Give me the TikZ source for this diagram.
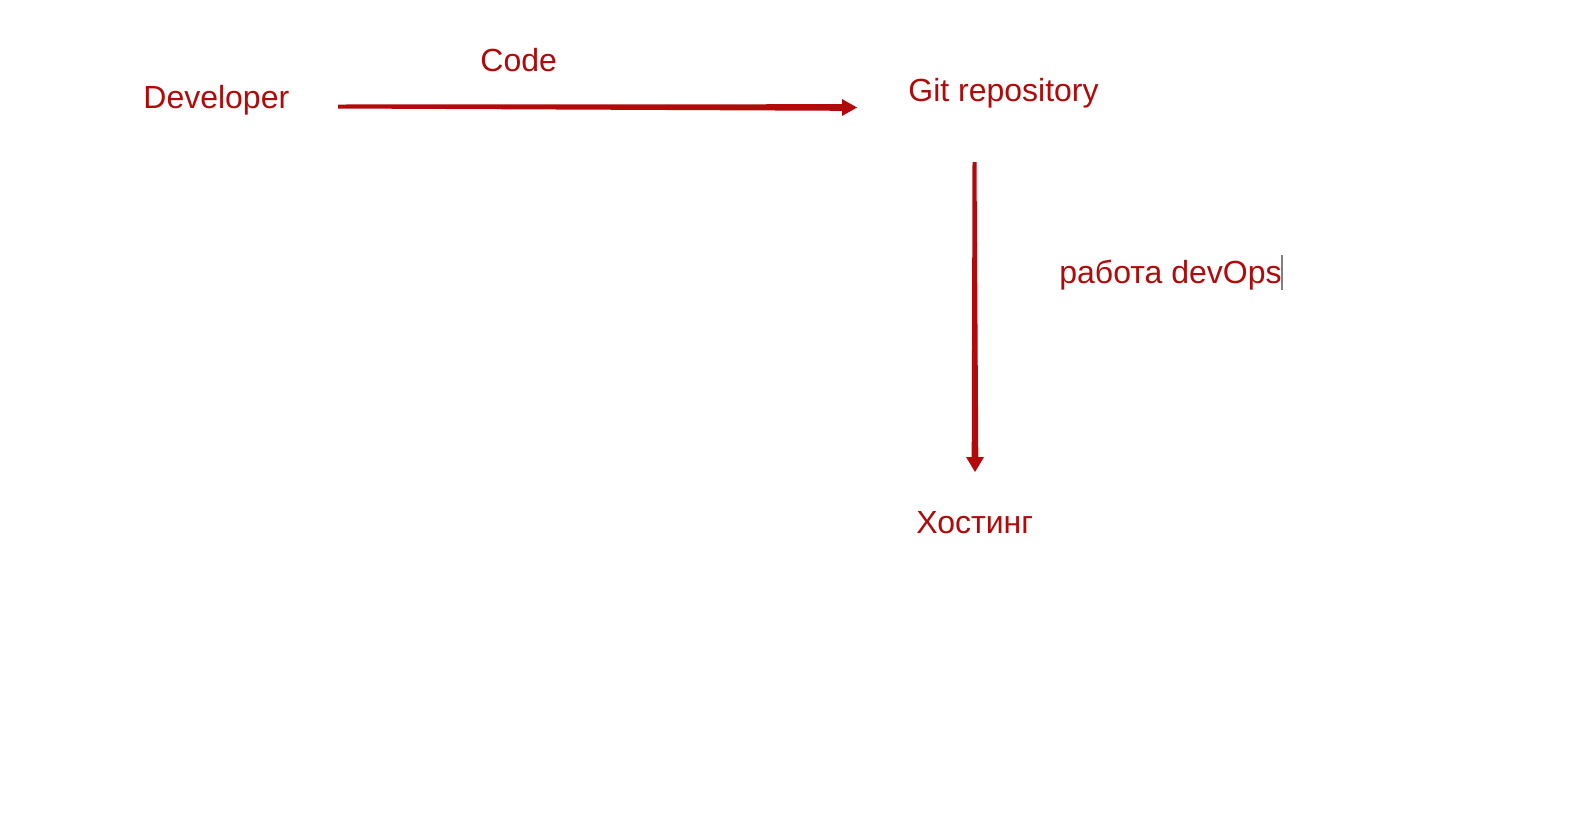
\documentclass[tikz,border=0pt]{standalone}
\usepackage{fontspec}
\setmainfont{Liberation Sans}
\usetikzlibrary{calc}
\definecolor{dred}{RGB}{178,10,10}
\begin{document}
\begin{tikzpicture}[x=0.5pt,y=-0.5pt,
  lbl/.style={anchor=base west,inner sep=0pt,text=dred,font=\fontsize{16}{19}\selectfont},
  arrowfill/.style={fill=dred,draw=none}]
\useasboundingbox[fill=white] (0,0) rectangle (1586,815);
\node[lbl] (dev) at (143,108) {Developer};
\node[lbl] (code) at (480,71) {Code};
\node[lbl] (git) at (908,101) {Git repository};
\node[lbl] (ops) at (1059,283) {работа devOps};
\node[lbl] (host) at (916,533) {Хостинг};
% cursor
\coordinate (cur1) at (1281.5,255);
\coordinate (cur2) at (1281.5,290);
\draw[gray,line width=1pt] (cur1) -- (cur2);
% horizontal arrow
\coordinate (h1) at (338,106.5);
\coordinate (h2) at (857,107.5);
\fill[arrowfill] ($(h1)+(0,-2)$) -- ($(h2)+(-15,-3.3)$) -- ($(h2)+(-15,-8.5)$) -- (h2)
  -- ($(h2)+(-15,8.5)$) -- ($(h2)+(-15,3.3)$) -- ($(h1)+(0,2)$) -- cycle;
% vertical arrow
\coordinate (v1) at (974.5,162);
\coordinate (v2) at (975,472);
\fill[arrowfill] ($(v1)+(-2,0)$) -- ($(v2)+(-3.3,-15)$) -- ($(v2)+(-9,-15)$) -- (v2)
  -- ($(v2)+(9,-15)$) -- ($(v2)+(3.3,-15)$) -- ($(v1)+(2,0)$) -- cycle;
\end{tikzpicture}
\end{document}
